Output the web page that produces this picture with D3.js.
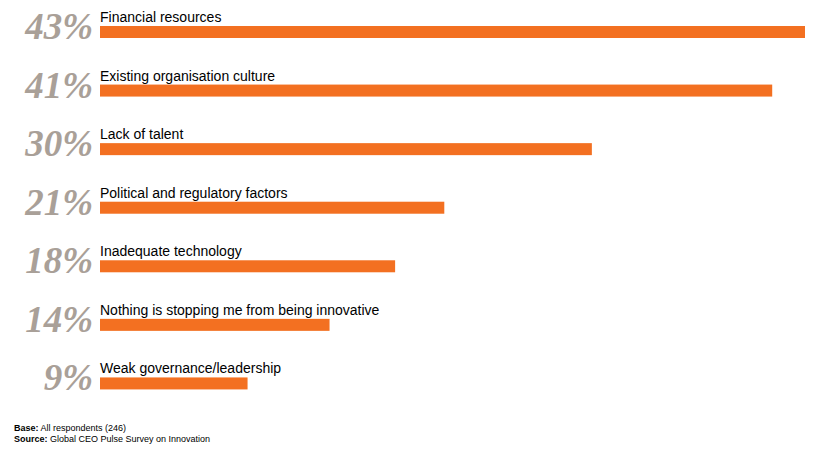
<!DOCTYPE html>
<html><head><meta charset="utf-8">
<script src="https://cdn.jsdelivr.net/npm/d3@7"></script>
<style>body{margin:0;background:#fff}</style>
</head><body><svg id="c" width="817" height="453"></svg>
<script>
const categories=["Financial resources","Existing organisation culture","Lack of talent","Political and regulatory factors","Inadequate technology","Nothing is stopping me from being innovative","Weak governance/leadership"];
const values=[43,41,30,21,18,14,9];
const svg=d3.select("#c");
const x=d3.scaleLinear().domain([0,43]).range([100,805]);
const y=d3.scaleBand().domain(categories).range([0,410]).paddingInner(0).paddingOuter(0);
const g=svg.selectAll("g.row").data(categories).join("g").attr("transform",d=>`translate(0,${y(d)})`);
g.append("rect").attr("x",x(0)).attr("y",26).attr("height",12).attr("width",(d,i)=>x(values[i])-x(0)).attr("fill","#f37021");
g.append("text").attr("x",100).attr("y",22).attr("font-family","Liberation Sans, Arial").attr("font-size",14).attr("fill","#000").text(d=>d);
g.append("text").attr("x",93).attr("y",39).attr("text-anchor","end").attr("font-family","Liberation Serif, Times New Roman").attr("font-style","italic").attr("font-weight","bold").attr("font-size",37).attr("fill","#a9a098").text((d,i)=>values[i]+"%");
const f=svg.append("g").attr("font-family","Liberation Sans, Arial").attr("font-size",9);
const t1=f.append("text").attr("x",14).attr("y",431);
t1.append("tspan").attr("font-weight","bold").text("Base:");t1.append("tspan").text(" All respondents (246)");
const t2=f.append("text").attr("x",14).attr("y",442);
t2.append("tspan").attr("font-weight","bold").text("Source:");t2.append("tspan").text(" Global CEO Pulse Survey on Innovation");
</script></body></html>
